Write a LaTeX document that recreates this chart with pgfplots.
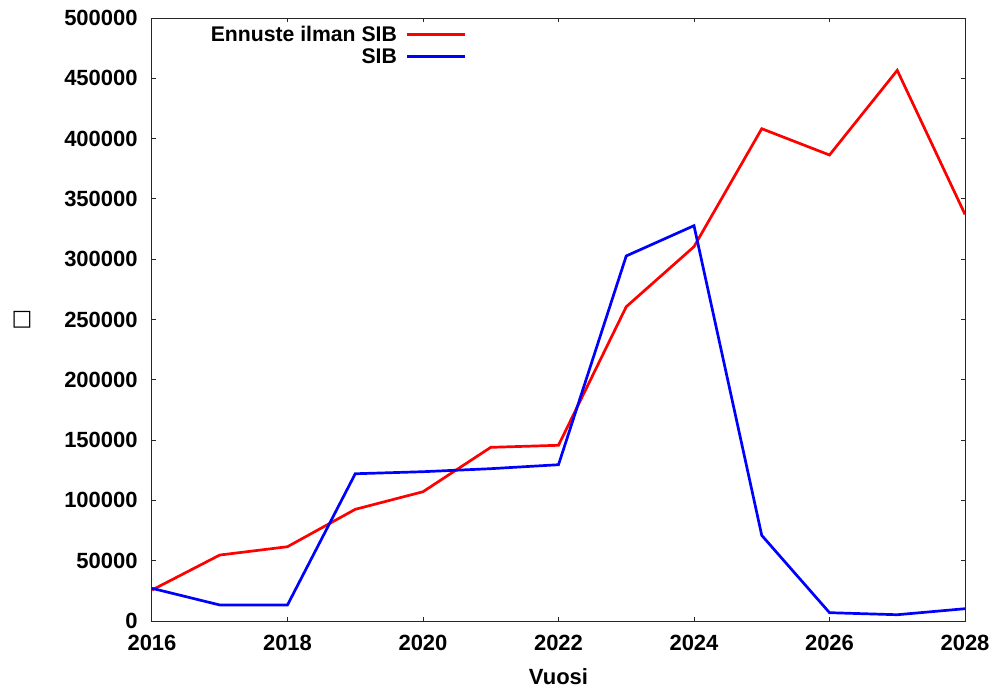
\documentclass[border=0pt]{standalone}
\usepackage{pgfplots}
\pgfplotsset{compat=1.18}
\usepackage{fontspec}
\setmainfont{Liberation Sans}
\newfontfamily\dejavu{DejaVu Sans}

\begin{document}
\begin{tikzpicture}
\fontsize{11pt}{13pt}\selectfont\bfseries
\path[use as bounding box] (-76pt,-33pt) rectangle (422pt,310.5pt);
\begin{axis}[
    at={(0pt,0pt)}, anchor=south west,
    scale only axis,
    width=406.5pt, height=301.5pt,
    xmin=2016, xmax=2028,
    ymin=0, ymax=500000,
    xtick={2016,2018,...,2028},
    ytick={0,50000,...,500000},
    scaled y ticks=false,
    tick align=inside,
    major tick length=2.2pt,
    axis line style={line width=0.5pt, black!85},
    every tick/.style={line width=0.5pt, black!85},
    tick label style={font=\fontsize{11pt}{13pt}\selectfont\bfseries},
    /pgf/number format/assume math mode=true,
    /pgf/number format/1000 sep={},
    /pgf/number format/fixed,
    xticklabel style={yshift=-3pt},
    yticklabel style={xshift=-3.3pt},
    xlabel={Vuosi},
    ylabel={{\dejavu □}},
    xlabel style={at={(axis description cs:0.5,0)}, anchor=center, yshift=-28pt, font=\fontsize{11pt}{13pt}\selectfont\bfseries},
    ylabel style={at={(axis description cs:-0.16,0.5)}, anchor=center, rotate=-90},
    legend plot pos=right,
    legend cell align=right,
    legend image code/.code={\draw[#1] (0pt,0pt) -- (29pt,0pt);},
    legend style={draw=none, fill=none, at={(rel axis cs:0.385,1)}, anchor=north east,
        xshift=4pt, yshift=-1.5pt, font=\fontsize{10.6pt}{13pt}\selectfont\bfseries,
        nodes={inner sep=0pt, text height=8pt, text depth=1pt},
        row sep=2pt, column sep=4.5pt},
]
\addplot[red, line width=1.35pt] coordinates {
(2016,25700) (2017,54700) (2018,61600) (2019,92600) (2020,107200)
(2021,144000) (2022,145700) (2023,260600) (2024,310400) (2025,408200)
(2026,386400) (2027,456600) (2028,337200)};
\addlegendentry{Ennuste ilman SIB}
\addplot[blue, line width=1.35pt] coordinates {
(2016,27100) (2017,13300) (2018,13300) (2019,122100) (2020,123800)
(2021,126300) (2022,129600) (2023,302700) (2024,327800) (2025,71000)
(2026,6900) (2027,5200) (2028,10200)};
\addlegendentry{SIB}
\end{axis}
\end{tikzpicture}
\end{document}
